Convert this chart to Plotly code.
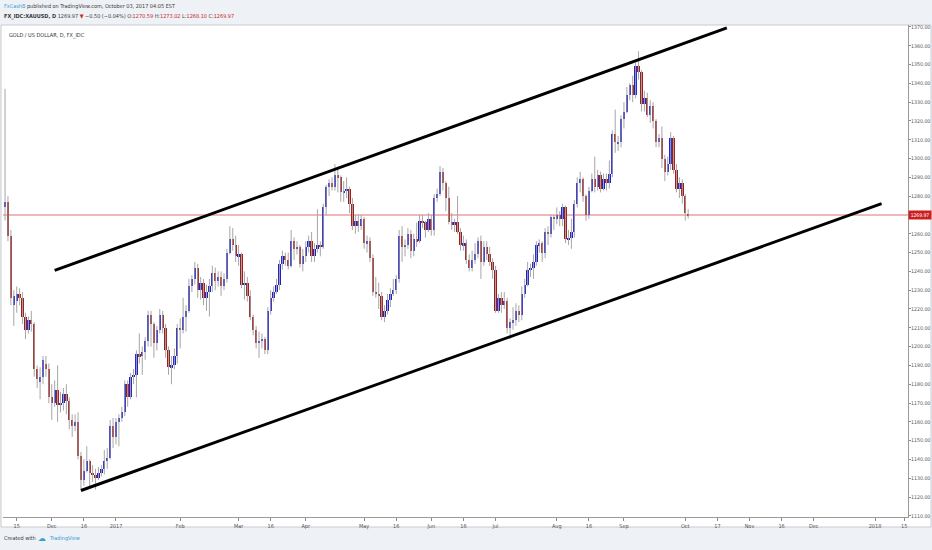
import pandas as pd
import plotly.graph_objects as go

# ---------------- data (GOLD / US DOLLAR, daily, FX_IDC) ----------------
first_day = "2016-11-09"
last_day = "2017-10-03"

open_ = [
    # Nov 2016
    1274, 1277, 1259, 1222, 1224, 1228, 1226, 1216, 1209, 1214, 1212, 1188, 1181, 1184, 1191, 1188,
    # Dec 2016
    1173, 1170, 1177, 1169, 1170, 1175, 1171, 1161, 1158, 1160, 1142, 1129, 1134, 1139, 1133, 1132,
    1130, 1133, 1135, 1139, 1141, 1158,
    # Jan 2017
    1152, 1160, 1162, 1165, 1180, 1173, 1184, 1185, 1196, 1195, 1197, 1203, 1217, 1212, 1202, 1209,
    1217, 1210, 1198, 1189, 1190, 1195,
    # Feb 2017
    1210, 1209, 1216, 1219, 1232, 1236, 1242, 1230, 1234, 1226, 1229, 1232, 1239, 1235, 1237, 1232,
    1236, 1250, 1257, 1254,
    # Mar 2017
    1248, 1249, 1233, 1234, 1227, 1216, 1209, 1202, 1203, 1204, 1198, 1219, 1226, 1229, 1233, 1244,
    1248, 1246, 1243, 1256, 1252, 1253, 1244,
    # Apr 2017
    1248, 1253, 1256, 1248, 1252, 1254, 1253, 1274, 1285, 1287, 1285, 1291, 1290, 1282, 1283, 1284,
    1276, 1264, 1267, 1264,
    # May 2017
    1268, 1255, 1256, 1247, 1229, 1228, 1227, 1216, 1219, 1225, 1228, 1230, 1236, 1259, 1253, 1254,
    1260, 1251, 1257, 1256, 1267, 1266, 1262,
    # Jun 2017
    1268, 1262, 1279, 1281, 1293, 1287, 1279, 1266, 1265, 1266, 1261, 1254, 1255, 1246, 1242, 1246,
    1249, 1256, 1245, 1253, 1249, 1245,
    # Jul 2017
    1241, 1219, 1226, 1222, 1224, 1210, 1213, 1214, 1219, 1217, 1228, 1233, 1241, 1242, 1245, 1254,
    1255, 1250, 1261, 1260, 1269,
    # Aug 2017
    1268, 1270, 1268, 1274, 1257, 1258, 1261, 1276, 1287, 1289, 1280, 1270, 1283, 1289, 1285, 1291,
    1284, 1289, 1287, 1292, 1313, 1308, 1309,
    # Sep 2017
    1321, 1325, 1334, 1339, 1334, 1349, 1346, 1329, 1332, 1323, 1328, 1320, 1309, 1311, 1300, 1293,
    1297, 1311, 1294, 1284, 1287,
    # Oct 2017
    1280, 1270.59,
]

high = [
    1337, 1280, 1262, 1230, 1232, 1231, 1229, 1218, 1216, 1219, 1213, 1190, 1189, 1195, 1195, 1191,
    1180, 1182, 1190, 1176, 1178, 1180, 1173, 1164, 1164, 1165, 1144, 1140, 1147, 1140, 1137, 1135,
    1136, 1137, 1145, 1146, 1161, 1162,
    1162, 1164, 1168, 1182, 1182, 1186, 1188, 1198, 1207, 1200, 1205, 1219, 1219, 1213, 1211, 1220,
    1219, 1212, 1200, 1195, 1199, 1212,
    1215, 1226, 1222, 1236, 1238, 1245, 1244, 1237, 1236, 1233, 1236, 1243, 1242, 1240, 1240, 1239,
    1252, 1264, 1263, 1259,
    1254, 1250, 1240, 1237, 1230, 1217, 1211, 1208, 1207, 1205, 1221, 1230, 1232, 1236, 1246, 1251,
    1250, 1250, 1262, 1258, 1256, 1254, 1252,
    1256, 1259, 1261, 1255, 1273, 1256, 1276, 1286, 1289, 1290, 1297, 1295, 1291, 1288, 1290, 1285,
    1279, 1270, 1270, 1270,
    1269, 1259, 1258, 1249, 1237, 1234, 1229, 1222, 1228, 1231, 1236, 1238, 1262, 1264, 1257, 1263,
    1262, 1260, 1266, 1270, 1270, 1267, 1271,
    1270, 1281, 1284, 1296, 1295, 1288, 1285, 1271, 1268, 1280, 1263, 1259, 1257, 1249, 1251, 1255,
    1258, 1259, 1256, 1256, 1253, 1247,
    1243, 1228, 1229, 1229, 1226, 1215, 1221, 1223, 1222, 1232, 1236, 1245, 1244, 1249, 1256, 1257,
    1256, 1263, 1264, 1270, 1270,
    1274, 1272, 1276, 1275, 1262, 1268, 1278, 1290, 1293, 1290, 1281, 1285, 1292, 1301, 1294, 1293,
    1292, 1292, 1299, 1315, 1326, 1312, 1323,
    1330, 1338, 1340, 1344, 1351, 1357, 1347, 1336, 1335, 1331, 1330, 1321, 1313, 1317, 1302, 1301,
    1314, 1312, 1297, 1290, 1289,
    1281, 1273.02,
]

low = [
    1267, 1256, 1222, 1211, 1218, 1222, 1212, 1204, 1207, 1208, 1184, 1178, 1172, 1180, 1184, 1170,
    1161, 1168, 1160, 1165, 1166, 1164, 1156, 1152, 1155, 1140, 1124, 1126, 1133, 1125, 1128, 1124,
    1129, 1131, 1132, 1135, 1140, 1146,
    1148, 1147, 1160, 1163, 1168, 1172, 1180, 1173, 1191, 1185, 1193, 1200, 1200, 1194, 1198, 1207,
    1207, 1194, 1185, 1180, 1188, 1191,
    1199, 1207, 1208, 1218, 1229, 1233, 1226, 1225, 1222, 1219, 1216, 1229, 1230, 1232, 1227, 1230,
    1234, 1249, 1251, 1245,
    1243, 1231, 1225, 1224, 1214, 1206, 1199, 1194, 1199, 1196, 1196, 1217, 1224, 1228, 1230, 1241,
    1243, 1241, 1242, 1246, 1249, 1242, 1240,
    1245, 1250, 1245, 1245, 1250, 1248, 1252, 1270, 1280, 1283, 1283, 1282, 1277, 1277, 1279, 1271,
    1262, 1260, 1261, 1262,
    1252, 1250, 1245, 1227, 1226, 1220, 1214, 1213, 1217, 1221, 1227, 1228, 1234, 1245, 1248, 1252,
    1247, 1248, 1253, 1255, 1263, 1258, 1261,
    1259, 1259, 1277, 1280, 1283, 1272, 1265, 1262, 1261, 1260, 1251, 1251, 1244, 1240, 1240, 1244,
    1247, 1236, 1243, 1246, 1243, 1236,
    1218, 1218, 1218, 1220, 1207, 1204, 1209, 1211, 1213, 1214, 1226, 1232, 1237, 1236, 1243, 1250,
    1245, 1247, 1254, 1258, 1262,
    1265, 1264, 1264, 1255, 1254, 1252, 1258, 1274, 1282, 1277, 1267, 1268, 1282, 1282, 1283, 1282,
    1283, 1283, 1284, 1290, 1303, 1304, 1306,
    1316, 1324, 1331, 1330, 1332, 1342, 1325, 1325, 1322, 1319, 1316, 1306, 1306, 1295, 1288, 1291,
    1294, 1292, 1282, 1279, 1276,
    1267, 1268.10,
]

close = [
    1277, 1259, 1226, 1227, 1228, 1226, 1216, 1209, 1214, 1212, 1188, 1183, 1184, 1193, 1188, 1173,
    1170, 1177, 1169, 1170, 1175, 1171, 1161, 1158, 1160, 1142, 1129, 1134, 1139, 1133, 1132, 1130,
    1133, 1135, 1139, 1141, 1158, 1152,
    1160, 1162, 1165, 1180, 1173, 1184, 1185, 1196, 1195, 1197, 1203, 1217, 1212, 1202, 1209, 1217,
    1210, 1198, 1189, 1190, 1195, 1210,
    1209, 1216, 1219, 1232, 1236, 1242, 1230, 1234, 1226, 1229, 1232, 1239, 1235, 1237, 1232, 1236,
    1250, 1257, 1254, 1248,
    1249, 1233, 1234, 1227, 1216, 1209, 1202, 1203, 1204, 1198, 1219, 1226, 1229, 1233, 1244, 1248,
    1246, 1243, 1256, 1252, 1253, 1244, 1248,
    1253, 1256, 1248, 1252, 1254, 1253, 1274, 1285, 1287, 1285, 1291, 1290, 1282, 1283, 1284, 1276,
    1264, 1267, 1264, 1268,
    1255, 1256, 1247, 1229, 1228, 1227, 1216, 1219, 1225, 1228, 1230, 1236, 1259, 1253, 1254, 1260,
    1251, 1257, 1256, 1267, 1266, 1262, 1268,
    1262, 1279, 1281, 1293, 1287, 1279, 1266, 1265, 1266, 1261, 1254, 1255, 1246, 1242, 1246, 1249,
    1256, 1245, 1253, 1249, 1245, 1241,
    1219, 1226, 1222, 1224, 1210, 1213, 1214, 1219, 1217, 1228, 1233, 1241, 1242, 1245, 1254, 1255,
    1250, 1261, 1260, 1269, 1268,
    1270, 1268, 1274, 1257, 1258, 1261, 1276, 1287, 1289, 1280, 1270, 1283, 1289, 1285, 1291, 1284,
    1289, 1287, 1292, 1313, 1309, 1309, 1321,
    1325, 1334, 1339, 1334, 1349, 1346, 1329, 1332, 1323, 1328, 1320, 1309, 1311, 1300, 1293, 1297,
    1311, 1294, 1284, 1287, 1280,
    1271, 1269.97,
]

last_price = 1269.97

# hand-drawn channel lines (date, price)
upper_line_dates = ["2016-12-02 12:00", "2017-10-20 18:00"]
upper_line_prices = [1240.5, 1369.5]
lower_line_dates = ["2016-12-15 12:00", "2018-01-03 18:00"]
lower_line_prices = [1123.5, 1276.0]

# time-axis labels
tick_dates = ["2016-11-15", "2016-12-01", "2016-12-16", "2017-01-02", "2017-02-01", "2017-03-01",
              "2017-03-16", "2017-04-03", "2017-05-01", "2017-05-16", "2017-06-01", "2017-06-16",
              "2017-07-03", "2017-08-01", "2017-08-16", "2017-09-01", "2017-10-02", "2017-10-17",
              "2017-11-01", "2017-11-16", "2017-12-01", "2018-01-01", "2018-01-15"]
tick_text = ["15", "Dec", "16", "2017", "Feb", "Mar", "16", "Apr", "May", "16", "Jun", "16",
             "Jul", "Aug", "16", "Sep", "Oct", "17", "Nov", "16", "Dec", "2018", "15"]

# price-axis labels (1270 sits under the last-price tag)
price_ticks = [1110, 1120, 1130, 1140, 1150, 1160, 1170, 1180, 1190, 1200, 1210, 1220, 1230,
               1240, 1250, 1260, 1280, 1290, 1300, 1310, 1320, 1330, 1340, 1350, 1360, 1370]

# ---------------- figure ----------------
dates = pd.bdate_range(first_day, last_day) + pd.Timedelta(hours=12)
tick_vals = [pd.Timestamp(d) + pd.Timedelta(hours=12) for d in tick_dates]

UP = "#1f1fcc"
DOWN = "#a01b1b"
FONT = "Liberation Sans Narrow, DejaVu Sans Condensed, Roboto, sans-serif"
DAY_MS = 86400000

body_base = [min(o, c) for o, c in zip(open_, close)]
body_len = [max(abs(c - o), 0.5) for o, c in zip(open_, close)]
body_col = [UP if c >= o else DOWN for o, c in zip(open_, close)]

# wicks (grey), drawn beneath the bodies
wx, wy = [], []
for d, lo, hi in zip(dates, low, high):
    wx += [d, d, None]
    wy += [lo, hi, None]

fig = go.Figure()
fig.add_trace(go.Scatter(x=wx, y=wy, mode="lines", line=dict(color="#a6a6a6", width=1),
                         hoverinfo="skip", showlegend=False))
fig.add_trace(go.Bar(x=dates, y=body_len, base=body_base, width=0.8 * DAY_MS,
                     marker=dict(color=body_col, line=dict(width=0)),
                     hoverinfo="skip", showlegend=False))
fig.add_trace(go.Scatter(x=pd.to_datetime(upper_line_dates), y=upper_line_prices, mode="lines",
                         line=dict(color="#000000", width=3), hoverinfo="skip", showlegend=False))
fig.add_trace(go.Scatter(x=pd.to_datetime(lower_line_dates), y=lower_line_prices, mode="lines",
                         line=dict(color="#000000", width=3), hoverinfo="skip", showlegend=False))

W, H = 932, 550
L_, R_, T_, B_ = 3, 24, 25, 33
PW, PH = W - L_ - R_, H - T_ - B_


def px(xp):
    return (xp - L_) / PW


def py(yp):
    return (H - B_ - yp) / PH


shapes = [
    # white chart panel
    dict(type="rect", xref="paper", yref="paper", x0=px(1), x1=px(931), y0=py(527), y1=py(25),
         fillcolor="#ffffff", line=dict(color="#c9ccd1", width=1), layer="below"),
    # last price line
    dict(type="line", xref="paper", yref="y", x0=0, x1=1, y0=last_price, y1=last_price,
         line=dict(color="#e07070", width=1), layer="below"),
]

RED = "#c62828"
BLUE_TXT = "#3e9bd8"
annotations = [
    dict(xref="paper", yref="paper", x=px(2), y=py(6), xanchor="left", yanchor="middle",
         showarrow=False, font=dict(family=FONT, size=5.5, color="#3b3b3b"),
         text=f"<span style='color:{BLUE_TXT}'>FxCashB</span> published on TradingView.com, October 03, 2017 04:05 EST"),
    dict(xref="paper", yref="paper", x=px(2), y=py(16.5), xanchor="left", yanchor="middle",
         showarrow=False, font=dict(family=FONT, size=5.5, color="#3b3b3b"),
         text=f"<b>FX_IDC:XAUUSD, D</b> 1269.97 <span style='color:{RED}'>▼</span> −0.50 (−0.04%) "
              f"O:<span style='color:{RED}'>1270.59</span> H:<span style='color:{RED}'>1273.02</span> "
              f"L:<span style='color:{RED}'>1268.10</span> C:<span style='color:{RED}'>1269.97</span>"),
    dict(xref="paper", yref="paper", x=px(7), y=py(35), xanchor="left", yanchor="middle",
         showarrow=False, font=dict(family=FONT, size=5.5, color="#333333"),
         text="GOLD / US DOLLAR, D, FX_IDC"),
    dict(xref="paper", yref="paper", x=px(2), y=py(538), xanchor="left", yanchor="middle",
         showarrow=False, font=dict(family=FONT, size=5.5, color="#3b3b3b"),
         text="Created with"),
    dict(xref="paper", yref="paper", x=px(36), y=py(538), xanchor="left", yanchor="middle",
         showarrow=False, font=dict(family="DejaVu Sans", size=8, color=BLUE_TXT),
         text="☁"),
    dict(xref="paper", yref="paper", x=px(47), y=py(538), xanchor="left", yanchor="middle",
         showarrow=False, font=dict(family=FONT, size=5.5, color=BLUE_TXT),
         text="TradingView"),
    dict(xref="paper", yref="y", x=1.0, y=last_price, xanchor="left", yanchor="middle",
         showarrow=False, font=dict(family=FONT, size=5, color="#ffffff"),
         text="1269.97", bgcolor="#cc2020", borderpad=1, width=20),
]

fig.update_layout(
    width=W, height=H,
    margin=dict(l=L_, r=R_, t=T_, b=B_, pad=0, autoexpand=False),
    paper_bgcolor="#eef1f5", plot_bgcolor="#ffffff",
    showlegend=False, shapes=shapes, annotations=annotations,
    font=dict(family=FONT, size=5.5, color="#555555"),
    xaxis=dict(
        type="date",
        rangebreaks=[dict(bounds=["sat", "mon"])],
        range=[pd.Timestamp("2016-11-08 19:12"), pd.Timestamp("2018-01-16 19:12")],
        tickmode="array", tickvals=tick_vals, ticktext=tick_text,
        ticks="outside", ticklen=3, tickcolor="#8a8a8a", tickfont=dict(size=5.5, color="#555555"),
        showgrid=False, zeroline=False, showline=True, linecolor="#9a9a9a", linewidth=1,
        fixedrange=True, automargin=False,
    ),
    yaxis=dict(
        side="right", range=[1109.4, 1371.0],
        tickmode="array", tickvals=price_ticks, tickformat=".2f",
        ticks="outside", ticklen=2, tickcolor="#8a8a8a", tickfont=dict(size=5.2, color="#555555"),
        ticklabelstandoff=-1,
        showgrid=False, zeroline=False, showline=True, linecolor="#9a9a9a", linewidth=1,
        fixedrange=True, automargin=False,
    ),
    bargap=0,
)

fig.write_html("out.html", config={"displayModeBar": False},
               post_script="document.body.style.margin='0';")
